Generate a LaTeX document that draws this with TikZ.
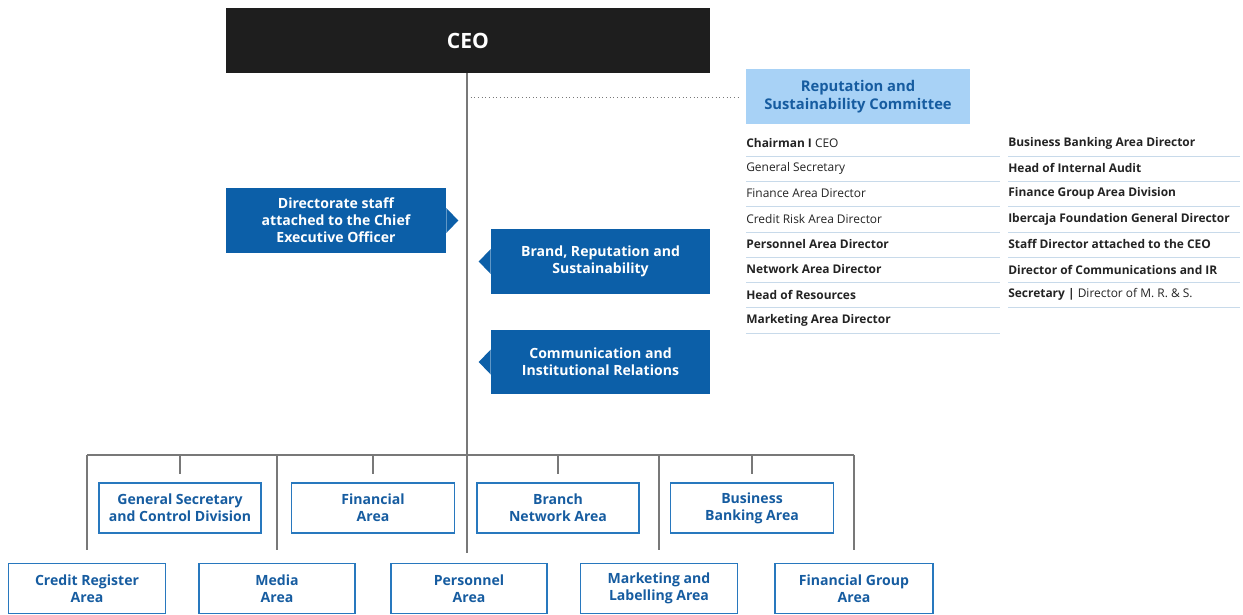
\documentclass[tikz,border=0pt]{standalone}
\usepackage{fontspec}
\setmainfont{Open Sans}
\usetikzlibrary{positioning, calc}
\definecolor{ceoblack}{RGB}{30,30,30}
\definecolor{ibblue}{RGB}{12,95,168}
\definecolor{ibtext}{RGB}{22,92,160}
\definecolor{ibedge}{RGB}{40,120,190}
\definecolor{ibpale}{RGB}{168,210,246}
\definecolor{linegray}{RGB}{120,120,120}
\definecolor{rowgray}{RGB}{200,218,234}
\definecolor{tabletext}{RGB}{35,35,35}
\newcommand{\pxl}{0.025cm}

\begin{document}
\begin{tikzpicture}[x=0.025cm, y=-0.025cm,
    solidbox/.style={fill=ibblue, text=white, align=center, inner sep=0pt,
      font=\bfseries\fontsize{10}{12}\selectfont,
      minimum width=220*\pxl, minimum height=65*\pxl},
    areabox/.style={draw=ibedge, line width=1pt, text=ibtext, align=center, inner sep=0pt,
      font=\bfseries\fontsize{10}{12}\selectfont, minimum height=50*\pxl},
    link/.style={draw=linegray, line width=0.8pt},
    rowtext/.style={anchor=west, inner sep=0pt, text=tabletext, font=\fontsize{8.5}{10}\selectfont},
    rowline/.style={draw=rowgray, line width=0.5pt}]
  \useasboundingbox (0,0) rectangle (1243,614);

  % top
  \node[fill=ceoblack, text=white, font=\bfseries\fontsize{15}{17}\selectfont,
        minimum width=484*\pxl, minimum height=65*\pxl] (ceo) at (468,40.5) {CEO};
  \node[fill=ibpale, text=ibtext, align=center, inner sep=0pt,
        font=\bfseries\fontsize{10.5}{12.5}\selectfont,
        minimum width=224*\pxl, minimum height=55*\pxl] (committee) at (858,96.5)
    {Reputation and\\Sustainability Committee};
  \coordinate (spineend) at (467,553);
  \coordinate (bus) at (0,455);
  \draw[link] (ceo.south -| spineend) -- (spineend);
  \draw[draw=linegray, dotted, line width=0.6pt] (467,97) -- ([xshift=-8*\pxl]committee.west |- 0,97);

  % staff units
  \node[solidbox] (staff) at (336,220.5) {Directorate staff\\attached to the Chief\\Executive Officer};
  \fill[ibblue] (staff.east) ++(0,-12.5) -- ++(12,12.5) -- ++(-12,12.5) -- cycle;
  \node[solidbox, minimum width=219*\pxl] (brand) at (600.5,261.5) {Brand, Reputation and\\Sustainability};
  \fill[ibblue] (brand.west) ++(0,-12.5) -- ++(-12,12.5) -- ++(12,12.5) -- cycle;
  \node[solidbox, minimum width=219*\pxl, minimum height=64*\pxl] (comms) at (600.5,362) {Communication and\\Institutional Relations};
  \fill[ibblue] (comms.west) ++(0,-12.5) -- ++(-12,12.5) -- ++(12,12.5) -- cycle;

  % committee members
  \foreach \txt [count=\i] in {{\textbf{Chairman I} CEO}, {General Secretary}, {Finance Area Director},
      {Credit Risk Area Director}, {\textbf{Personnel Area Director}}, {\textbf{Network Area Director}},
      {\textbf{Head of Resources}}, {\textbf{Marketing Area Director}}} {
    \node[rowtext] (left\i) at (746,{143+(\i-1)*25.3}) {\txt};
    \draw[rowline] (746,{156+(\i-1)*25.3}) -- (1000,{156+(\i-1)*25.3});
  }
  \foreach \txt [count=\i] in {{Business Banking Area Director}, {Head of Internal Audit},
      {Finance Group Area Division}, {Ibercaja Foundation General Director},
      {Staff Director attached to the CEO}, {Director of Communications and IR}} {
    \node[rowtext, font=\bfseries\fontsize{8.5}{10}\selectfont] (right\i) at (1008,{143+(\i-1)*25.3}) {\txt};
    \draw[rowline] (1008,{156+(\i-1)*25.3}) -- (1240,{156+(\i-1)*25.3});
  }
  \node[rowtext] (right7) at (1008,{143+6*25.3}) {\textbf{Secretary |} Director of M. R. \& S.};
  \draw[rowline] (1008,{156+6*25.3}) -- (1240,{156+6*25.3});

  % areas, upper row
  \node[areabox, minimum width=162*\pxl] (gensec) at (180,508) {General Secretary\\and Control Division};
  \node[areabox, minimum width=163*\pxl] (financial) at (373,508) {Financial\\Area};
  \node[areabox, minimum width=162*\pxl] (branch) at (558,508) {Branch\\Network Area};
  \node[areabox, minimum width=163*\pxl] (business) at (752,508) {Business\\Banking Area};
  % areas, lower row
  \node[areabox, minimum width=157*\pxl] (credit) at (87,588.5) {Credit Register\\Area};
  \node[areabox, minimum width=156*\pxl] (media) at (277,588.5) {Media\\Area};
  \node[areabox, minimum width=156*\pxl] (personnel) at (469,588.5) {Personnel\\Area};
  \node[areabox, minimum width=157*\pxl] (marketing) at (659,588.5) {Marketing and\\Labelling Area};
  \node[areabox, minimum width=158*\pxl] (fingroup) at (854,588.5) {Financial Group\\Area};

  % bus and drops
  \draw[link] (credit.north |- bus) -- (fingroup.north |- bus);
  \foreach \area in {gensec, financial, branch, business}
    \draw[link] (\area.north |- bus) -- ([yshift=8*\pxl]\area.north);
  \foreach \area in {credit, media, marketing, fingroup}
    \draw[link] (\area.north |- bus) -- ([yshift=13*\pxl]\area.north);
\end{tikzpicture}
\end{document}
